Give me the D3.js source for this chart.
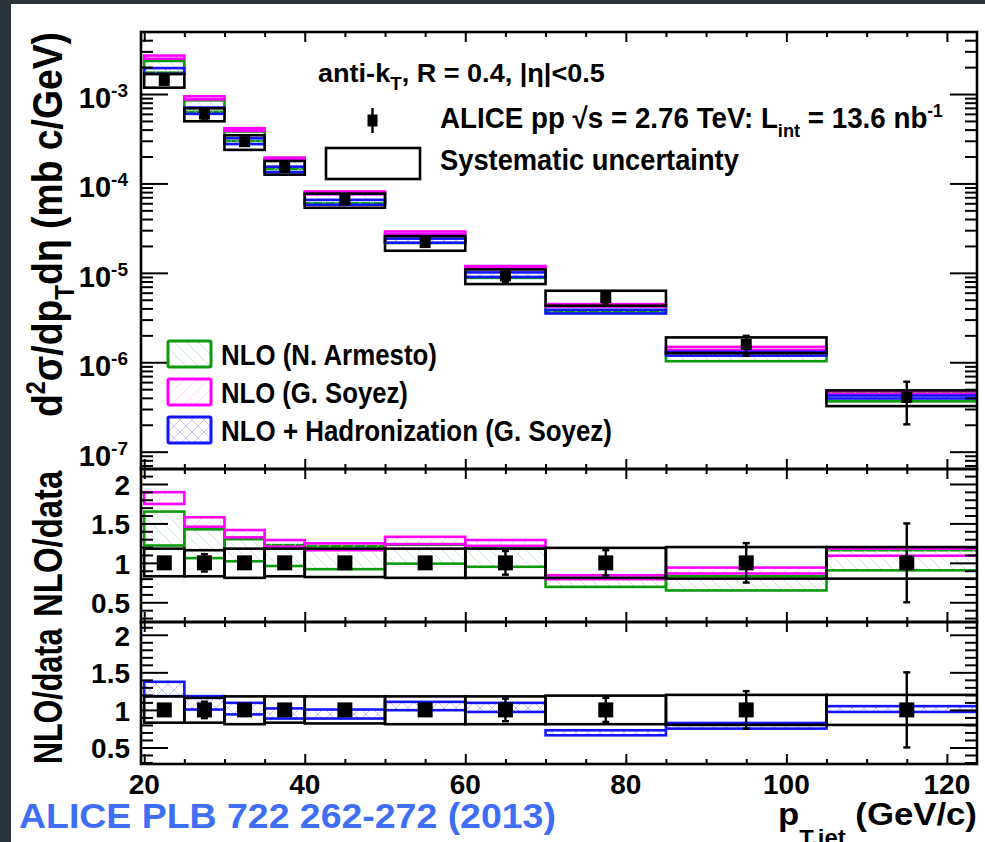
<!DOCTYPE html>
<html>
<head>
<meta charset="utf-8">
<script src="https://cdn.jsdelivr.net/npm/d3@7"></script>
<style>
body { margin: 0; background: #2b333d; }
svg { display: block; }
text { font-family: "Liberation Sans", Arial, Helvetica, sans-serif; font-weight: bold; }
</style>
</head>
<body>
<svg id="chart" width="985" height="842"></svg>
<script>
// jet pT bins (GeV/c)
const binLo = [20, 25, 30, 35, 40, 50, 60, 70, 85, 105]
const binHi = [25, 30, 35, 40, 50, 60, 70, 85, 105, 125]
const binMid = [22.5, 27.5, 32.5, 37.5, 45, 55, 65, 77.5, 95, 115]
// ALICE cross section (mb c/GeV) and relative uncertainties
const xsec = [1.42e-3, 5.97e-4, 2.93e-4, 1.51e-4, 6.52e-5, 2.18e-5, 9.25e-6, 5.30e-6, 1.58e-6, 4.04e-7]
const statRel = [0.03, 0.11, 0.03, 0.03, 0.03, 0.03, 0.15, 0.16, 0.25, 0.50]
const sysUp = [0.18, 0.16, 0.18, 0.18, 0.18, 0.18, 0.18, 0.19, 0.20, 0.20]
const sysDn = [0.17, 0.17, 0.19, 0.17, 0.18, 0.19, 0.19, 0.19, 0.20, 0.20]
// theory / data ratio bands
const armLo = [1.22, 1.06, 1.02, 0.96, 0.92, 0.99, 0.95, 0.695, 0.65, 0.905]
const armHi = [1.65, 1.425, 1.30, 1.225, 1.21, 1.23, 1.21, 0.80, 0.83, 1.16]
const soyLo = [1.747, 1.458, 1.323, 1.204, 1.16, 1.238, 1.216, 0.793, 0.865, 1.09]
const soyHi = [1.896, 1.578, 1.416, 1.289, 1.247, 1.33, 1.289, 0.843, 0.94, 1.18]
const hadLo = [1.183, 1.005, 0.94, 0.885, 0.885, 0.996, 0.973, 0.662, 0.751, 0.973]
const hadHi = [1.374, 1.183, 1.094, 1.02, 1.005, 1.107, 1.094, 0.729, 0.826, 1.05]
// tick labels
const xTickLabels = [20, 40, 60, 80, 100, 120]
const logExponents = [-7, -6, -5, -4, -3]
const ratioTickLabels = [0.5, 1, 1.5, 2]
const legendNames = ['NLO (N. Armesto)', 'NLO (G. Soyez)', 'NLO + Hadronization (G. Soyez)']

const svg = d3.select('#chart')
svg.append('rect').attr('x', 11).attr('y', 4).attr('width', 974).attr('height', 838).attr('fill', '#fff')

const X0 = 141, X1 = 977
const x = d3.scaleLinear().domain([19.6, 123.75]).range([X0, X1])
const yTop = d3.scaleLog().domain([6.4e-8, 4.94e-3]).range([469, 32])
const yMid = d3.scaleLinear().domain([0.25, 2.19]).range([622, 469])
const yBot = d3.scaleLinear().domain([0.28, 2.17]).range([764, 622])

const defs = svg.append('defs')
function hatch(id, color, dirs) {
    const p = defs.append('pattern').attr('id', id)
        .attr('patternUnits', 'userSpaceOnUse').attr('width', 12).attr('height', 12)
    dirs.forEach(d => {
        p.append('path')
            .attr('d', d === '/' ? 'M-1,13L13,-1M-7,7L7,-7M5,19L19,5' : 'M-1,-1L13,13M-7,5L7,19M5,-7L19,7')
            .attr('stroke', color).attr('stroke-width', 0.8).attr('fill', 'none')
    })
}
hatch('hArm', '#bfe6bf', ['\\'])
hatch('hSoy', '#ffc4ff', ['/'])
hatch('hHad', '#b4b4ff', ['/', '\\'])

const arm = {lo: armLo, hi: armHi, color: '#0c9b0c', fill: 'url(#hArm)'}
const soy = {lo: soyLo, hi: soyHi, color: '#ff00ff', fill: 'url(#hSoy)'}
const had = {lo: hadLo, hi: hadHi, color: '#1414ff', fill: 'url(#hHad)'}

const panels = [
    {id: 'top', y0: 32, y1: 469, y: yTop, models: [arm, soy, had], log: true, msize: 11},
    {id: 'mid', y0: 469, y1: 622, y: yMid, models: [arm, soy], log: false, msize: 15},
    {id: 'bot', y0: 622, y1: 764, y: yBot, models: [had], log: false, msize: 15}
]

panels.forEach(p => {
    defs.append('clipPath').attr('id', 'clip-' + p.id)
        .append('rect').attr('x', X0).attr('y', p.y0).attr('width', X1 - X0).attr('height', p.y1 - p.y0)
    const g = svg.append('g').attr('clip-path', `url(#clip-${p.id})`)
    const val = (i, r) => p.log ? xsec[i] * r : r

    p.models.forEach(m => {
        g.append('g').selectAll('rect').data(d3.range(binLo.length)).join('rect')
            .attr('x', i => x(binLo[i]))
            .attr('width', i => x(binHi[i]) - x(binLo[i]))
            .attr('y', i => p.y(val(i, m.hi[i])))
            .attr('height', i => p.y(val(i, m.lo[i])) - p.y(val(i, m.hi[i])))
            .attr('fill', m.fill).attr('stroke', m.color).attr('stroke-width', 2.6)
    })

    // systematic boxes
    g.append('g').selectAll('rect').data(d3.range(binLo.length)).join('rect')
        .attr('x', i => x(binLo[i]))
        .attr('width', i => x(binHi[i]) - x(binLo[i]))
        .attr('y', i => p.y(val(i, 1 + sysUp[i])))
        .attr('height', i => p.y(val(i, 1 - sysDn[i])) - p.y(val(i, 1 + sysUp[i])))
        .attr('fill', 'none').attr('stroke', '#000').attr('stroke-width', 2.6)

    // statistical error bars
    const eb = g.append('g').attr('stroke', '#000').attr('stroke-width', 2.4)
    binMid.forEach((c, i) => {
        const ya = p.y(val(i, 1 + statRel[i])), yb = p.y(val(i, 1 - statRel[i]))
        eb.append('line').attr('x1', x(c)).attr('x2', x(c)).attr('y1', ya).attr('y2', yb)
        eb.append('line').attr('x1', x(c) - 3.5).attr('x2', x(c) + 3.5).attr('y1', ya).attr('y2', ya)
        eb.append('line').attr('x1', x(c) - 3.5).attr('x2', x(c) + 3.5).attr('y1', yb).attr('y2', yb)
    })
    g.append('g').selectAll('rect').data(binMid).join('rect')
        .attr('x', c => x(c) - p.msize / 2)
        .attr('y', (c, i) => p.y(val(i, 1)) - p.msize / 2)
        .attr('width', p.msize).attr('height', p.msize).attr('fill', '#000')

    // ticks, pointing inward
    const xMajor = xTickLabels
    const xMinor = d3.range(25, 121, 5).filter(v => v % 20 !== 0)
    const tickStyle = s => s.call(a => a.select('.domain').remove())
        .call(a => a.selectAll('line').attr('stroke', '#000').attr('stroke-width', 2))
    ;[[d3.axisBottom, p.y1], [d3.axisTop, p.y0]].forEach(([ax, yy]) => {
        svg.append('g').attr('transform', `translate(0,${yy})`)
            .call(ax(x).tickValues(xMajor).tickSize(-10).tickFormat('')).call(tickStyle)
        svg.append('g').attr('transform', `translate(0,${yy})`)
            .call(ax(x).tickValues(xMinor).tickSize(-5).tickFormat('')).call(tickStyle)
    })
    let yMajor, yMinor
    if (p.log) {
        yMajor = logExponents.map(e => Math.pow(10, e))
        yMinor = p.y.ticks().filter(v => !yMajor.some(m => Math.abs(m - v) / m < 1e-6))
    } else {
        yMajor = ratioTickLabels
        yMinor = d3.range(3, 22).map(v => v / 10).filter(v => !yMajor.some(m => Math.abs(m - v) < 1e-6))
            .filter(v => v >= p.y.domain()[0] && v <= p.y.domain()[1])
    }
    ;[[d3.axisLeft, X0], [d3.axisRight, X1]].forEach(([ax, xx]) => {
        svg.append('g').attr('transform', `translate(${xx},0)`)
            .call(ax(p.y).tickValues(yMajor).tickSize(-27).tickFormat('')).call(tickStyle)
        svg.append('g').attr('transform', `translate(${xx},0)`)
            .call(ax(p.y).tickValues(yMinor).tickSize(-12).tickFormat('')).call(tickStyle)
    })

    svg.append('rect').attr('x', X0).attr('y', p.y0).attr('width', X1 - X0).attr('height', p.y1 - p.y0)
        .attr('fill', 'none').attr('stroke', '#000').attr('stroke-width', 2.6)
})

// y labels, top panel
logExponents.forEach(e => {
    const t = svg.append('text').attr('x', 128).attr('y', yTop(Math.pow(10, e)) + 14)
        .attr('text-anchor', 'end').attr('font-size', 29)
    t.append('tspan').text('10')
    t.append('tspan').attr('dy', -11).attr('font-size', 19).text('-' + Math.abs(e))
})
;[yMid, yBot].forEach(ys => {
    ratioTickLabels.forEach(v => {
        svg.append('text').attr('x', 130).attr('y', ys(v) + 11)
            .attr('text-anchor', 'end').attr('font-size', 28).text(String(v))
    })
})
xTickLabels.forEach(v => {
    svg.append('text').attr('x', x(v)).attr('y', 794)
        .attr('text-anchor', 'middle').attr('font-size', 28).text(v)
})

// squeeze a text group horizontally into [xa, xb]
function fitText(g, xa, xb, yy, rot) {
    const b = g.node().getBBox()
    const s = (xb - xa) / b.width
    if (rot) {
        g.attr('transform', `translate(${yy},${(xa + xb) / 2}) rotate(-90) scale(${s},1) translate(${-(b.x + b.width / 2)},0)`)
    } else {
        g.attr('transform', `translate(${xa},${yy}) scale(${s},1) translate(${-b.x},0)`)
    }
}
function label(parts, size, color) {
    const g = svg.append('g')
    const t = g.append('text').attr('font-size', size).attr('fill', color || '#000')
    parts.forEach(pt => {
        const ts = t.append('tspan').text(pt[0])
        if (pt[1]) ts.attr('font-size', pt[1])
        if (pt[2]) ts.attr('dy', pt[2])
    })
    return g
}

// axis titles
fitText(label([['d'], ['2', 27, -17], ['σ/dp', null, 17], ['T', 28, 12], ['dη (mb c/GeV)', null, -12]], 43), 32, 417, 62, true)
fitText(label([['NLO/data']], 40), 470, 617, 62, true)
fitText(label([['NLO/data']], 40), 628, 764, 62, true)
fitText(label([['p'], ['T,jet', 22, 20], [' (GeV/c)', null, -20]], 32), 778, 977, 825)
fitText(label([['ALICE PLB 722 262-272 (2013)']], 35, '#3e6ef3'), 19, 556, 828)

// top legend
fitText(label([['anti-k'], ['T', 18, 8], [', R = 0.4, |η|<0.5', null, -8]], 26), 318, 605, 82)
fitText(label([['ALICE pp  √s = 2.76 TeV: L'], ['int', 19, 9], [' = 13.6 nb', null, -9], ['-1', 18, -11]], 29), 440, 943, 128)
fitText(label([['Systematic uncertainty']], 29), 440, 739, 170)
svg.append('line').attr('x1', 372.5).attr('x2', 372.5).attr('y1', 108).attr('y2', 133)
    .attr('stroke', '#000').attr('stroke-width', 2.4)
svg.append('rect').attr('x', 367.5).attr('y', 114.5).attr('width', 10).attr('height', 12).attr('fill', '#000')
svg.append('rect').attr('x', 326).attr('y', 148).attr('width', 94).attr('height', 31)
    .attr('fill', 'none').attr('stroke', '#000').attr('stroke-width', 2.6)

// model legend
const legY = [341, 379, 417]
const legEnd = [437, 408, 612]
;[arm, soy, had].forEach((m, k) => {
    svg.append('rect').attr('x', 168).attr('y', legY[k]).attr('width', 43).attr('height', 26)
        .attr('fill', m.fill).attr('stroke', m.color).attr('stroke-width', 3).attr('rx', 1.5)
    fitText(label([[legendNames[k]]], 29), 221, legEnd[k], legY[k] + 24)
})
</script>
</body>
</html>
